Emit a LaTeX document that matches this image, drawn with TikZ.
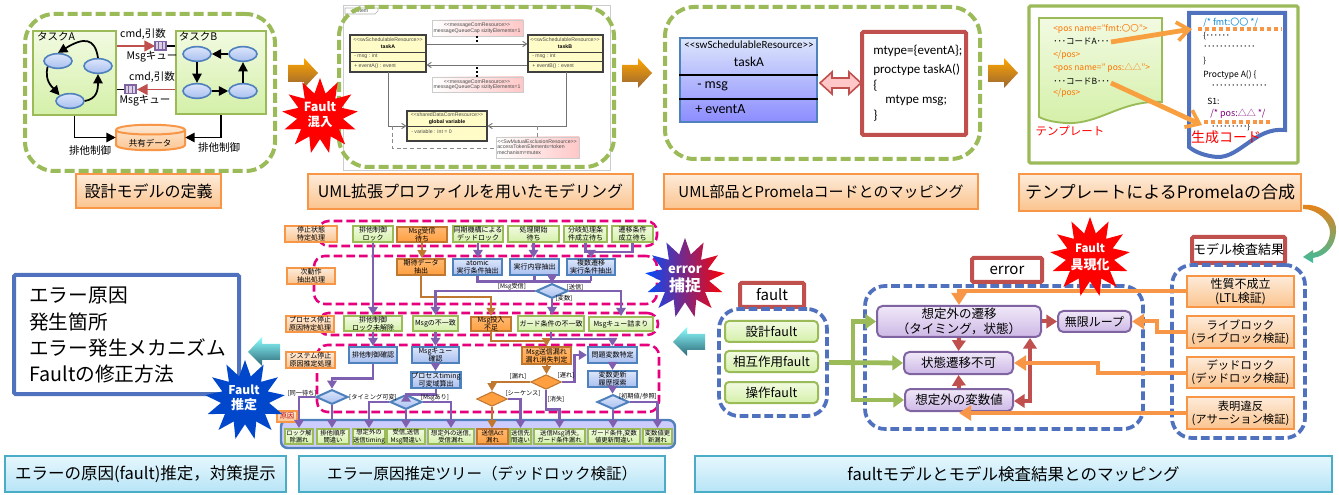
\documentclass[tikz,border=0pt]{standalone}
\usepackage{fontspec}
\setmainfont{Noto Sans CJK JP}
\newfontfamily\lat{Carlito}
\newfontfamily\ari{Liberation Sans}
\usetikzlibrary{arrows.meta,shapes.geometric,shadows,calc}
\definecolor{grn}{HTML}{9BBB59}
\definecolor{gtop}{HTML}{F2FAE2}
\definecolor{gbot}{HTML}{D4F0A8}
\definecolor{org}{HTML}{F79646}
\definecolor{otop}{HTML}{FDEBDA}
\definecolor{obot}{HTML}{FBC48E}
\definecolor{blu}{HTML}{4F71BE}
\definecolor{blb}{HTML}{4F81BD}
\definecolor{btop}{HTML}{DCE6FB}
\definecolor{bbot}{HTML}{A9BFF0}
\definecolor{rdd}{HTML}{C0504D}
\definecolor{pur}{HTML}{8064A2}
\definecolor{trp}{HTML}{7F5FAF}
\definecolor{ptop}{HTML}{F0E8F8}
\definecolor{pbot}{HTML}{CDB8E6}
\definecolor{mag}{HTML}{E6007E}
\definecolor{brn}{HTML}{C07830}
\definecolor{tel}{HTML}{4BACC6}
\definecolor{ctop}{HTML}{E6F7FD}
\definecolor{cbot}{HTML}{B7E4F6}
\newcommand\fs[1]{\fontsize{\fpeval{#1*0.75}}{\fpeval{#1*0.87}}\selectfont}
\newcount\tcnt
\newcommand\tx[5][]{\global\advance\tcnt by 1 \node[inner sep=0pt,align=center,text=black,font=\fs{#4},#1] (t\the\tcnt) at (#2,#3) {#5};}
\newcommand\bx[7]{\node[inner sep=0pt,align=center,#6,minimum width={(#4-#2)*0.75pt},minimum height={(#5-#3)*0.75pt}] (#1) at ({(#2+#4)/2},{(#3+#5)/2}) {#7};}
\newcommand\vc[3][]{\draw[#1] (#2.south) -- (#2.south |- #3.north);}
\newcommand\oarrow[2]{\shade[top color=orange!70!yellow,middle color=orange!85!black,bottom color=brown!80!black,draw=none,shading angle=0]
 (#1,{#2+7}) -- ({#1+16},{#2+7}) -- ({#1+16},#2) -- ({#1+30},{#2+15}) -- ({#1+16},{#2+30}) -- ({#1+16},{#2+24}) -- (#1,{#2+24}) -- cycle;}
\newcommand\tarrow[2]{\shade[top color=cyan!45,middle color=tel!90,bottom color=tel!60!black,draw=none]
 ({#1+32},{#2+7}) -- ({#1+14},{#2+7}) -- ({#1+14},#2) -- (#1,{#2+15}) -- ({#1+14},{#2+29}) -- ({#1+14},{#2+23}) -- ({#1+32},{#2+23}) -- cycle;}
\newcommand\queue[1]{\fill[pur] (#1) ++(-6.5,-5) rectangle ++(13,10);
 \foreach \d in {-3.5,0,3.5} {\fill[pur!30] (#1) ++(\d-1.1,-3.5) rectangle ++(2.2,7);}}
\tikzset{
 x=0.75pt,y=-0.75pt,
 gdash/.style={draw=grn,line width=3pt,dash pattern=on 7.5pt off 3pt,rounded corners=22pt},
 bdash/.style={draw=blu,line width=2.8pt,dash pattern=on 6.5pt off 2.8pt,rounded corners=15pt},
 mdash/.style={draw=mag,line width=1.9pt,dash pattern=on 6.5pt off 3pt,rounded corners=8pt},
 capo/.style={draw=org,line width=1.5pt,top color=otop,bottom color=obot,font=\fs{16}},
 capb/.style={draw=tel,line width=1.5pt,top color=ctop,bottom color=cbot,font=\fs{16}},
 redb/.style={draw=rdd,line width=3pt,fill=white,rounded corners=1pt},
 grb/.style={draw=grn,line width=1.6pt,top color=gtop,bottom color=gbot,font=\fs{7}},
 csb/.style={grb,font=\fs{6.3}},
 blb2/.style={draw=blb,line width=1.7pt,top color=btop,bottom color=bbot,font=\fs{7}},
 orb/.style={draw=brn,line width=1.2pt,top color=orange!55,bottom color=orange!75,font=\fs{7}},
 lab/.style={draw=org,line width=1.3pt,top color=otop,bottom color=obot,font=\fs{7}},
 dmb/.style={diamond,draw=blb,line width=1.5pt,top color=btop,bottom color=bbot,minimum width=24pt,minimum height=11pt,inner sep=0pt,aspect=2.2},
 dmo/.style={diamond,draw=brn,line width=.8pt,fill=orange!75,minimum width=23pt,minimum height=11pt,inner sep=0pt,aspect=2.2},
 pl/.style={draw=trp,line width=2.1pt,-{Triangle[length=6pt,width=7pt]}},
 pn/.style={draw=trp,line width=2.1pt},
 br/.style={draw=brn,line width=1.5pt,-{Triangle[length=6pt,width=6.5pt]}},
 pnode/.style={draw=pur,line width=1.5pt,rounded corners=4pt,top color=ptop,bottom color=pbot,font=\fs{12.5}},
 gnode/.style={draw=grn,line width=1.5pt,rounded corners=3pt,top color=gtop,bottom color=gbot,font=\fs{12.5}},
 onode/.style={draw=org,line width=1.5pt,top color=otop,bottom color=obot,font=\fs{12}},
 oarr/.style={draw=org,line width=3pt,-{Triangle[length=9pt,width=11pt]}},
 rarr/.style={draw=rdd,line width=3pt,-{Triangle[length=8pt,width=10pt]}},
 garr/.style={draw=grn,line width=3.6pt,-{Triangle[length=8pt,width=11pt]}},
 bka/.style={draw=black,line width=1.3pt,-{Triangle[length=7pt,width=7pt]}},
 ell/.style={ellipse,draw=blb,line width=1.2pt,top color=btop,bottom color=bbot,minimum width=21pt,minimum height=11pt,inner sep=0pt},
 tkb/.style={draw=grn,line width=1.7pt,top color=gtop,bottom color=gbot},
 umlb/.style={draw=black!75,line width=.8pt,fill=yellow!22,drop shadow={shadow xshift=1pt,shadow yshift=-1pt,fill=black!40,opacity=.6}},
 note/.style={left color=white,right color=red!22,draw=black!20,line width=.4pt},
 umlt/.style={font=\ari\fs{5.2},text=black!70},
 stred/.style={star,star points=13,star point ratio=1.65,fill=red,draw=none,inner sep=0pt},
}
\begin{document}
\begin{tikzpicture}
\useasboundingbox (0,0) rectangle (1339,495);
\fill[white] (0,0) rectangle (1339,495);

% ---------- panel 1
\bx{tA}{33}{31}{116}{115}{tkb}{}
\bx{tB}{176}{31}{266}{114}{tkb}{}
\tx{56}{36}{10.5}{タスクA}
\tx{198}{36}{10.5}{タスクB}
\node[ell] (a1) at (58,61) {};
\node[ell] (a2) at (98,66) {};
\node[ell] (a3) at (70,101) {};
\node[ell] (b1) at (197,54) {};
\node[ell] (b2) at (243,54) {};
\node[ell] (b3) at (197,91) {};
\node[ell] (b4) at (243,91) {};
\draw[bka] (a2.north) .. controls +(-3,-20) and +(26,-16) .. (a1.north);
\draw[bka] (a1.south west) .. controls +(-3,14) and +(-8,-9) .. (a3.north west);
\draw[bka] (a3.east) .. controls +(12,-2) and +(0,16) .. (a2.south);
\draw[bka] (b2.west) -- (b1.east);
\draw[bka] (b1.south) -- (b3.north);
\draw[bka] (b3.east) -- (b4.west);
\draw[bka] (b4.north) -- (b2.south);
\coordinate (q1) at (160.5,46);
\coordinate (q2) at (130.5,89.5);
\draw[black,line width=1.2pt] (q1) -- (q1 -| tB.west);
\draw[black,line width=1.2pt] (q2) -- (q2 -| tA.east);
\draw[rdd,line width=1.4pt,-{Triangle[length=8pt,width=8pt]}] (q1 -| tA.east) -- ++(38,0);
\draw[rdd,line width=1.4pt,-{Triangle[length=8pt,width=8pt]}] (q2 -| tB.west) -- ++(-38,0);
\queue{q1}
\queue{q2}
\tx{143}{34}{10.5}{cmd,引数}
\tx{152}{57}{10.5}{Msgキュー}
\tx{152}{77}{10.5}{cmd,引数}
\tx{145}{101}{10.5}{Msgキュー}
\path[draw=org,line width=1.5pt,top color=otop,bottom color=obot]
 (116,130) -- (116,145) .. controls (116,152) and (185,152) .. (185,145) -- (185,130) .. controls (185,123) and (116,123) .. (116,130) -- cycle;
\draw[org,line width=1.5pt] (116,130) .. controls (116,136) and (185,136) .. (185,130);
\bx{cy}{116}{125}{185}{150}{}{}
\tx{150}{143}{8.5}{共有データ}
\draw[bka] (tA.south) |- (cy.west);
\draw[bka] (tB.south -| 221,0) |- (cy.east);
\tx{90}{151}{10.5}{排他制御}
\tx{219}{148}{10.5}{排他制御}
\bx{p1}{25}{14}{275}{171}{gdash}{}
\bx{c1a}{76}{174}{221}{208}{capo}{設計モデルの定義}

% ---------- panel 2
\bx{fr2}{343}{5}{610}{170}{draw=black!20,line width=.6pt}{}
\draw[black!30,line width=.5pt,fill=white] (345,8) -- (378,8) -- (378,11) -- (375,14) -- (345,14) -- cycle;
\tx[umlt]{360}{11}{5.2}{system}
\bx{ua}{350}{35}{426}{72}{umlb}{}
\bx{ub}{528}{35}{603}{72}{umlb}{}
\bx{ug}{407}{111}{487}{141}{umlb}{}
\draw[black!75,line width=.6pt] (ua.west |- 0,52) -- (ua.east |- 0,52) (ua.west |- 0,61) -- (ua.east |- 0,61);
\draw[black!75,line width=.6pt] (ub.west |- 0,52) -- (ub.east |- 0,52) (ub.west |- 0,61) -- (ub.east |- 0,61);
\draw[black!75,line width=.6pt] (ug.west |- 0,126) -- (ug.east |- 0,126);
\tx[umlt]{388}{40}{5.2}{<<swSchedulableResource>>}
\tx[font=\ari\bfseries\fs{5.2}]{388}{47}{5.2}{taskA}
\tx[umlt,anchor=west]{354}{56}{5.2}{- msg : int}
\tx[umlt,anchor=west]{354}{66}{5.2}{+ eventA() : event}
\tx[umlt]{565}{40}{5.2}{<<swSchedulableResource>>}
\tx[font=\ari\bfseries\fs{5.2}]{565}{47}{5.2}{taskB}
\tx[umlt,anchor=west]{532}{56}{5.2}{- msg : int}
\tx[umlt,anchor=west]{532}{66}{5.2}{+ eventB() : event}
\tx[umlt]{447}{115}{5.2}{<<sharedDataComResource>>}
\tx[font=\ari\bfseries\fs{5.2}]{447}{122}{5.2}{global variable}
\tx[umlt,anchor=west]{411}{132}{5.2}{- variable : int = 0}
\bx{n1p}{432}{20}{523}{36}{note}{}
\bx{n2p}{432}{77}{523}{92}{note}{}
\bx{n3p}{496}{137}{579}{158}{note}{}
\tx[umlt]{477}{25}{5.2}{<<messageComResource>>}
\tx[umlt]{477}{31}{5.2}{messageQueueCap sizityElements=1}
\tx[umlt]{477}{82}{5.2}{<<messageComResource>>}
\tx[umlt]{477}{87}{5.2}{messageQueueCap sizityElements=1}
\tx[umlt]{537}{142}{5.2}{<<SwMutualExclusionResource>>}
\tx[umlt,anchor=west]{497}{147}{5.2}{accessTokenElements=token}
\tx[umlt,anchor=west]{497}{153}{5.2}{mechanism=mutex}
\coordinate (y44) at (0,44);
\coordinate (y65) at (0,65);
\coordinate (y126) at (0,126);
\draw[black!55,line width=.7pt,-{Straight Barb[length=3pt,width=4pt]}] (ua.east |- y44) -- (ub.west |- y44);
\draw[black!55,line width=.7pt,-{Straight Barb[length=3pt,width=4pt]}] (ub.west |- y65) -- (ua.east |- y65);
\draw[black,line width=1pt,dotted] (n1p.south -| 477,0) -- (477,44);
\draw[black,line width=1pt,dotted] (n2p.north -| 477,0) -- (477,65);
\draw[black!55,line width=.7pt,-{Straight Barb[length=3pt,width=4pt]}] (388,72) |- (ug.west |- y126);
\draw[black!55,line width=.7pt,-{Straight Barb[length=3pt,width=4pt]}] (566,72) |- (ug.east |- y126);
\draw[black!45,line width=.5pt,densely dashed] (392,126) |- (n3p.west |- 0,148);
\draw[black!45,line width=.5pt,densely dashed] (n3p.north -| 537,0) -- (537,126);
\bx{p2}{339}{7}{614}{167}{gdash}{}
\bx{c2a}{308}{174}{633}{209}{capo}{UML拡張プロファイルを用いたモデリング}

% ---------- panel 3
\bx{cl}{680}{38}{817}{122}{draw=blb,line width=1.5pt,top color=btop,bottom color=blue!45!white}{}
\draw[black,line width=1.5pt] (cl.west |- 0,75) -- (cl.east |- 0,75) (cl.west |- 0,99) -- (cl.east |- 0,99);
\tx[font=\lat\fs{11}]{749}{45}{11}{<<swSchedulableResource>>}
\tx[font=\lat\fs{13.5}]{749}{62}{13.5}{taskA}
\tx[font=\lat\fs{14},anchor=west]{697}{86}{14}{- msg}
\tx[font=\lat\fs{14},anchor=west]{695}{109}{14}{+ eventA}
\bx{cd}{862}{32}{966}{135}{redb}{}
\tx[font=\lat\fs{13},anchor=west]{873}{51}{13}{mtype=\{eventA\};}
\tx[font=\lat\fs{13},anchor=west]{873}{70}{13}{proctype taskA()}
\tx[font=\lat\fs{13},anchor=west]{873}{86}{13}{\{}
\tx[font=\lat\fs{13},anchor=west]{885}{101}{13}{mtype msg;}
\tx[font=\lat\fs{13},anchor=west]{873}{116}{13}{\}}
\draw[rdd,line width=1.2pt,fill=red!22] (820,83) -- (832,72) -- (832,78) -- (849,78) -- (849,72) -- (861,83) -- (849,94) -- (849,88) -- (832,88) -- (832,94) -- cycle;
\bx{p3}{665}{7}{980}{159}{gdash}{}
\bx{c3a}{664}{174}{978}{209}{capo,font=\fs{15}}{UML部品とPromelaコードとのマッピング}

% ---------- panel 4
\bx{p4}{1029}{6}{1298}{163}{draw=grn,line width=2.3pt,fill=white,rounded corners=1pt}{}
\path[draw=grn,line width=1.4pt,top color=gtop,bottom color=gbot]
 (1039,18) -- (1162,18) -- (1162,102) .. controls (1120,100) and (1100,125) .. (1065,123) .. controls (1052,122) and (1045,120) .. (1039,117) -- cycle;
\tx[anchor=west,text=orange!90!red]{1053}{29}{8.5}{<pos name="fmt:〇〇">}
\tx[anchor=west]{1053}{41}{8.5}{･･･コードA･･･}
\tx[anchor=west,text=orange!90!red]{1053}{55}{8.5}{</pos>}
\tx[anchor=west,text=orange!90!red]{1053}{68}{8.5}{<pos name=" pos:△△">}
\tx[anchor=west]{1053}{81}{8.5}{･･･コードB･･･}
\tx[anchor=west,text=orange!90!red]{1053}{93}{8.5}{</pos>}
\tx[text=red]{1070}{131}{11.5}{テンプレート}
\path[draw=blu,line width=3pt,fill=white]
 (1189,13) -- (1285,13) -- (1285,130) .. controls (1255,127) and (1240,158) .. (1217,157) .. controls (1205,156) and (1195,152) .. (1189,147) -- cycle;
\tx[anchor=west,text=cyan!70!blue]{1203}{23}{9}{/* fmt:〇〇 */}
\tx[anchor=west]{1203}{36}{8}{\{･･････}
\tx[anchor=west]{1203}{48}{8}{･････････････}
\tx[anchor=west]{1203}{61}{8}{\}}
\tx[anchor=west]{1203}{75}{8.5}{Proctype A() \{}
\tx[anchor=west]{1211}{87}{8}{･･････････････}
\tx[anchor=west]{1207}{101}{8.5}{S1:}
\tx[anchor=west,text=violet]{1210}{114}{9}{/* pos:△△ */}
\tx[anchor=west]{1211}{127}{8}{･････････\}}
\tx[text=red]{1226}{137}{14}{生成コード}
\draw[org,line width=3pt,dash pattern=on 3pt off 2.2pt] (1198,29) -- (1282,29);
\draw[org,line width=3pt,dash pattern=on 3pt off 2.2pt] (1204,122) -- (1270,122);
\coordinate (ca) at (1111,42);
\coordinate (cb) at (1192,29);
\coordinate (cc) at (1111,83);
\coordinate (cd2) at (1202,125);
\draw[org!90!yellow,line width=3.6pt,-{Straight Barb[length=9pt,width=14pt,line width=2.8pt]}] (ca) -- (cb);
\draw[org!90!yellow,line width=3.6pt,-{Straight Barb[length=9pt,width=14pt,line width=2.8pt]}] (cc) -- (cd2);
\bx{c4a}{1019}{174}{1301}{211}{capo,font=\fs{17}}{テンプレートによるPromelaの合成}

% block arrows
\oarrow{288}{58}
\oarrow{622}{58}
\oarrow{988}{58}
\tarrow{248}{337}
\tarrow{673}{327}
% curved arrow
\shade[top color=orange!70!brown,middle color=green!50!yellow!70!black,bottom color=tel!80!green]
 (1303,205) .. controls (1322,203) and (1338,218) .. (1336,232) .. controls (1335,246) and (1326,256) .. (1313,258)
 -- (1313,263) -- (1303,257) -- (1313,250) -- (1313,253) .. controls (1322,251) and (1330,243) .. (1330,232) .. controls (1330,222) and (1318,209) .. (1303,209) -- cycle;

% ---------- tree
\bx{g1}{318}{221}{657}{246}{mdash}{}
\bx{g2}{314}{256}{657}{304}{mdash}{}
\bx{g3}{318}{313}{658}{335}{mdash}{}
\bx{g4}{317}{345}{659}{412}{mdash}{}
\bx{l1}{285}{226}{337}{242}{lab}{停止状態\\特定処理}
\bx{l2}{287}{268}{335}{284}{lab}{次動作\\抽出処理}
\bx{l3}{286}{316}{334}{332}{lab}{プロセス停止\\原因特定処理}
\bx{l4}{286}{352}{335}{368}{lab}{システム停止\\原因推定処理}
\bx{r1a}{353}{226}{393}{242}{grb}{排他制御\\ロック}
\bx{r1b}{397}{227}{447}{242}{orb}{Msg受信\\待ち}
\bx{r1c}{453}{226}{503}{242}{grb}{同期機構による\\デッドロック}
\bx{r1d}{508}{226}{559}{242}{grb}{処理開始\\待ち}
\bx{r1e}{564}{226}{607}{242}{grb}{分岐処理条\\件成立待ち}
\bx{r1f}{612}{226}{653}{242}{grb}{遷移条件\\成立待ち}
\bx{r2a}{397}{259}{445}{275}{orb}{期待データ\\抽出}
\bx{r2b}{453}{259}{502}{275}{blb2}{atomic\\実行条件抽出}
\bx{r2c}{510}{259}{559}{275}{blb2}{実行内容抽出}
\bx{r2d}{567}{259}{615}{275}{blb2}{複数遷移\\実行条件抽出}
\node[dmb] (d1) at (552,291) {};
\bx{r3a}{344}{316}{402}{331}{grb}{排他制御\\ロック未解除}
\bx{r3b}{413}{316}{458}{331}{grb}{Msgの不一致}
\bx{r3c}{471}{317}{511}{331}{orb}{Msg投入\\不足}
\bx{r3d}{518}{316}{584}{331}{grb}{ガード条件の不一致}
\bx{r3e}{589}{317}{653}{331}{grb}{Msgキュー詰まり}
\bx{r4a}{349}{347}{397}{363}{blb2}{排他制御確認}
\bx{r4b}{412}{347}{459}{363}{blb2}{Msgキュー\\確認}
\bx{r4c}{412}{372}{460}{388}{blb2}{プロセスtiming\\可変域算出}
\bx{r4d}{522}{347}{571}{364}{orb}{Msg送信漏れ\\漏れ消失判定}
\bx{r4e}{588}{347}{637}{363}{blb2}{問題変数特定}
\bx{r4f}{588}{371}{637}{387}{blb2}{変数更新\\履歴探索}
\node[dmb] (d2) at (332,397) {};
\node[dmb] (d3) at (406,402) {};
\node[dmo] (d4) at (546,382) {};
\node[dmo] (d5) at (492,399) {};
\node[dmb] (d6) at (613,402) {};
\bx{cc0}{281}{420}{675}{448}{draw=blb,line width=1.8pt,fill=blue!20,rounded corners=5pt}{}
\bx{c1}{285}{429}{313}{444}{csb}{ロック解\\除漏れ}
\bx{c2}{317}{429}{349}{444}{csb}{排他順序\\間違い}
\bx{c3}{353}{429}{385}{444}{csb}{想定外の\\送信timing}
\bx{c4}{387}{429}{425}{444}{csb}{受信,送信\\Msg間違い}
\bx{c5}{428}{429}{474}{444}{csb}{想定外の送信,\\受信漏れ}
\bx{c6}{477}{429}{508}{444}{orb,font=\fs{6.3}}{送信Act\\漏れ}
\bx{c7}{510}{429}{531}{444}{csb}{送信先\\間違い}
\bx{c8}{534}{429}{585}{444}{csb}{送信Msg消失,\\ガード条件漏れ}
\bx{c9}{588}{429}{640}{444}{csb}{ガード条件,変数\\値更新間違い}
\bx{c10}{643}{429}{672}{444}{csb}{変数値更\\新漏れ}
\bx{l5}{277}{411}{297}{422}{lab,text=red!75!black}{原因}
% tree connectors
\vc[pl]{r1a}{r3a}
\vc[pl]{r3a}{r4a}
\draw[pl] (r4a.south) -- ++(0,14) -| (d2.north);
\draw[pl] (d2.west) -| (c1.north);
\vc[pl]{d2}{c2}
\draw[pl] (d3.west) -| (c3.north);
\vc[pl]{d3}{c4}
\draw[pl] (d3.east) -| (c5.north);
\vc[pl]{r3b}{r4b}
\vc[pl]{r4b}{r4c}
\draw[pl] (r4c.south) -- ++(0,5) -| (d3.north);
\vc[br]{r1b}{r2a}
\draw[br] (r2a.south) -- ++(0,21) -| (r3c.north);
\draw[br] (r3c.south) -- ++(0,9) -| (r4d.north);
\vc[br]{r4d}{d4}
\draw[br] (d4.west) -| (d5.north);
\vc[br]{d5}{c6}
\draw[pl] (d4.east) -- ++(13,0) |- (r4e.west);
\draw[pl] (d4.south) -- ++(0,20) -| (c8.north);
\draw[pl] (d5.east) -| (c7.north);
\vc[pl]{r1c}{r2b}
\vc[pl]{r1d}{r2c}
\draw[pn] (r1e.south) -- ++(0,9) coordinate (j1) -| (r1f.south);
\draw[pl] (j1 -| r2d.north) -- (r2d.north);
\draw[pl] (r2b.south) -- ++(0,5) coordinate (j2) -| (d1.north);
\draw[pl] (r2d.south |- j2) -| (d1.north);
\draw[pn] (r2d.south) -- (r2d.south |- j2);
\draw[pn] (r2c.south) -- (r2c.south |- j2);
\draw[pl] (d1.west) -| (r3b.north);
\draw[pl] (d1.east) -| (r3e.north);
\vc[pl]{d1}{r3d}
\draw[pl] (r3d.south) -- ++(0,7) -| (r4e.north);
\vc[pl]{r4e}{r4f}
\vc[pl]{r4f}{d6}
\vc[pl]{d6}{c9}
\draw[pl] (d6.east) -| (c10.north);
% tree labels
\tx{512}{287}{6.2}{[Msg受信]}
\tx{575}{287}{6.2}{[送信]}
\tx{564}{298}{6.2}{[変数]}
\tx{302}{393}{6.2}{[同一待ち]}
\tx{373}{397}{6.2}{[タイミング可変]}
\tx{435}{398}{6.2}{[Msgあり]}
\tx{518}{376}{6.2}{[漏れ]}
\tx{566}{376}{6.2}{[遅れ]}
\tx{523}{394}{6.2}{[シーケンス]}
\tx{556}{399}{6.2}{[消失]}
\tx{638}{396}{6.2}{[初期値/参照]}

% ---------- captions bottom
\bx{c5a}{5}{456}{286}{492}{capb,font=\fs{16.5}}{エラーの原因(fault)推定，対策提示}
\bx{c6a}{299}{456}{665}{492}{capb,font=\fs{15.5}}{エラー原因推定ツリー（デッドロック検証）}
\bx{c7a}{695}{456}{1332}{492}{capb,font=\fs{16.5}}{faultモデルとモデル検査結果とのマッピング}

% ---------- left box
\bx{lb}{14}{275}{239}{394}{draw=blu,line width=3pt,fill=white,rounded corners=1pt}{}
\tx[anchor=west]{29}{295}{19.7}{エラー原因}
\tx[anchor=west]{29}{322}{19.7}{発生箇所}
\tx[anchor=west]{29}{348}{19.7}{エラー発生メカニズム}
\tx[anchor=west]{29}{374}{19.7}{Faultの修正方法}

% ---------- fault / error panels
\bx{fl}{740}{283}{804}{307}{redb,font=\fs{15}}{fault}
\bx{fp}{719}{309}{827}{416}{bdash}{}
\bx{f1}{725}{321}{818}{342}{gnode}{設計fault}
\bx{f2}{725}{351}{818}{372}{gnode}{相互作用fault}
\bx{f3}{725}{382}{818}{403}{gnode}{操作fault}
\bx{el}{972}{258}{1042}{282}{redb,font=\fs{15}}{error}
\bx{ep}{865}{286}{1143}{429}{bdash}{}
\bx{n1}{877}{306}{1041}{337}{pnode}{想定外の遷移\\（タイミング，状態）}
\bx{n2}{904}{352}{1013}{374}{pnode}{状態遷移不可}
\bx{n3}{905}{389}{1013}{411}{pnode}{想定外の変数値}
\bx{m}{1058}{311}{1131}{332}{pnode,font=\fs{12}}{無限ループ}
\bx{ml}{1192}{237}{1285}{263}{redb,font=\fs{13}}{モデル検査結果}
\bx{mp}{1172}{265}{1305}{438}{bdash}{}
\bx{o1}{1187}{276}{1294}{307}{onode}{性質不成立\\(LTL検証)}
\bx{o2}{1187}{316}{1294}{348}{onode,font=\fs{11.3}}{ライブロック\\(ライブロック検証)}
\bx{o3}{1187}{357}{1294}{388}{onode,font=\fs{11.3}}{デッドロック\\(デッドロック検証)}
\bx{o4}{1187}{397}{1294}{429}{onode,font=\fs{11.3}}{表明違反\\(アサーション検証)}
% connectors
\coordinate (gj) at (853,363);
\draw[garr] (fp.east) -- (n2.west);
\draw[garr] (gj) |- (n1.west);
\draw[garr] (gj) |- (n3.west);
\draw[rarr] (n1.south) -- (n2.north);
\draw[rarr] (n3.north) -- (n2.south);
\draw[rarr] (n1.east) -- (m.west);
\coordinate (rj) at (1030,401);
\draw[rdd,line width=3pt,{Triangle[length=8pt,width=10pt]}-{Triangle[length=8pt,width=10pt]}] (n1.south -| rj) -- (rj) -- (n3.east |- rj);
\draw[oarr] (o1.west) -| (n1.north);
\draw[oarr] (o2.west) -- ++(-29,0) |- (m.east);
\draw[oarr] (o3.west) -- ++(-88,0) |- (n2.east);
\coordinate (oe) at (959,413);
\draw[oarr] (o4.west) -- (oe);

% ---------- stars
\node[stred,minimum size=57pt] (s1) at (320,116) {};
\tx[text=white,font=\bfseries\fs{12.5}]{320}{107}{12.5}{Fault}
\tx[text=white,font=\bfseries\fs{12.5}]{320}{122}{12.5}{混入}
\node[stred,minimum size=60pt] (s2) at (1090,257) {};
\tx[text=white,font=\bfseries\fs{11.5}]{1090}{248}{11.5}{Fault}
\tx[text=white,font=\bfseries\fs{13}]{1090}{265}{13}{具現化}
\node[star,star points=13,star point ratio=1.65,left color=blue!70!cyan,right color=red,inner sep=0pt,minimum size=60pt] (s3) at (685,278) {};
\tx[text=white,font=\bfseries\fs{13}]{685}{270}{13}{error}
\tx[text=white,font=\bfseries\fs{16}]{685}{285}{16}{捕捉}
\node[star,star points=13,star point ratio=1.65,fill=blue!65!cyan!80!black,inner sep=0pt,minimum size=60pt] (s4) at (245,400) {};
\tx[text=white,font=\bfseries\fs{12}]{244}{390}{12}{Fault}
\tx[text=white,font=\bfseries\fs{13}]{244}{405}{13}{推定}
\end{tikzpicture}
\end{document}
